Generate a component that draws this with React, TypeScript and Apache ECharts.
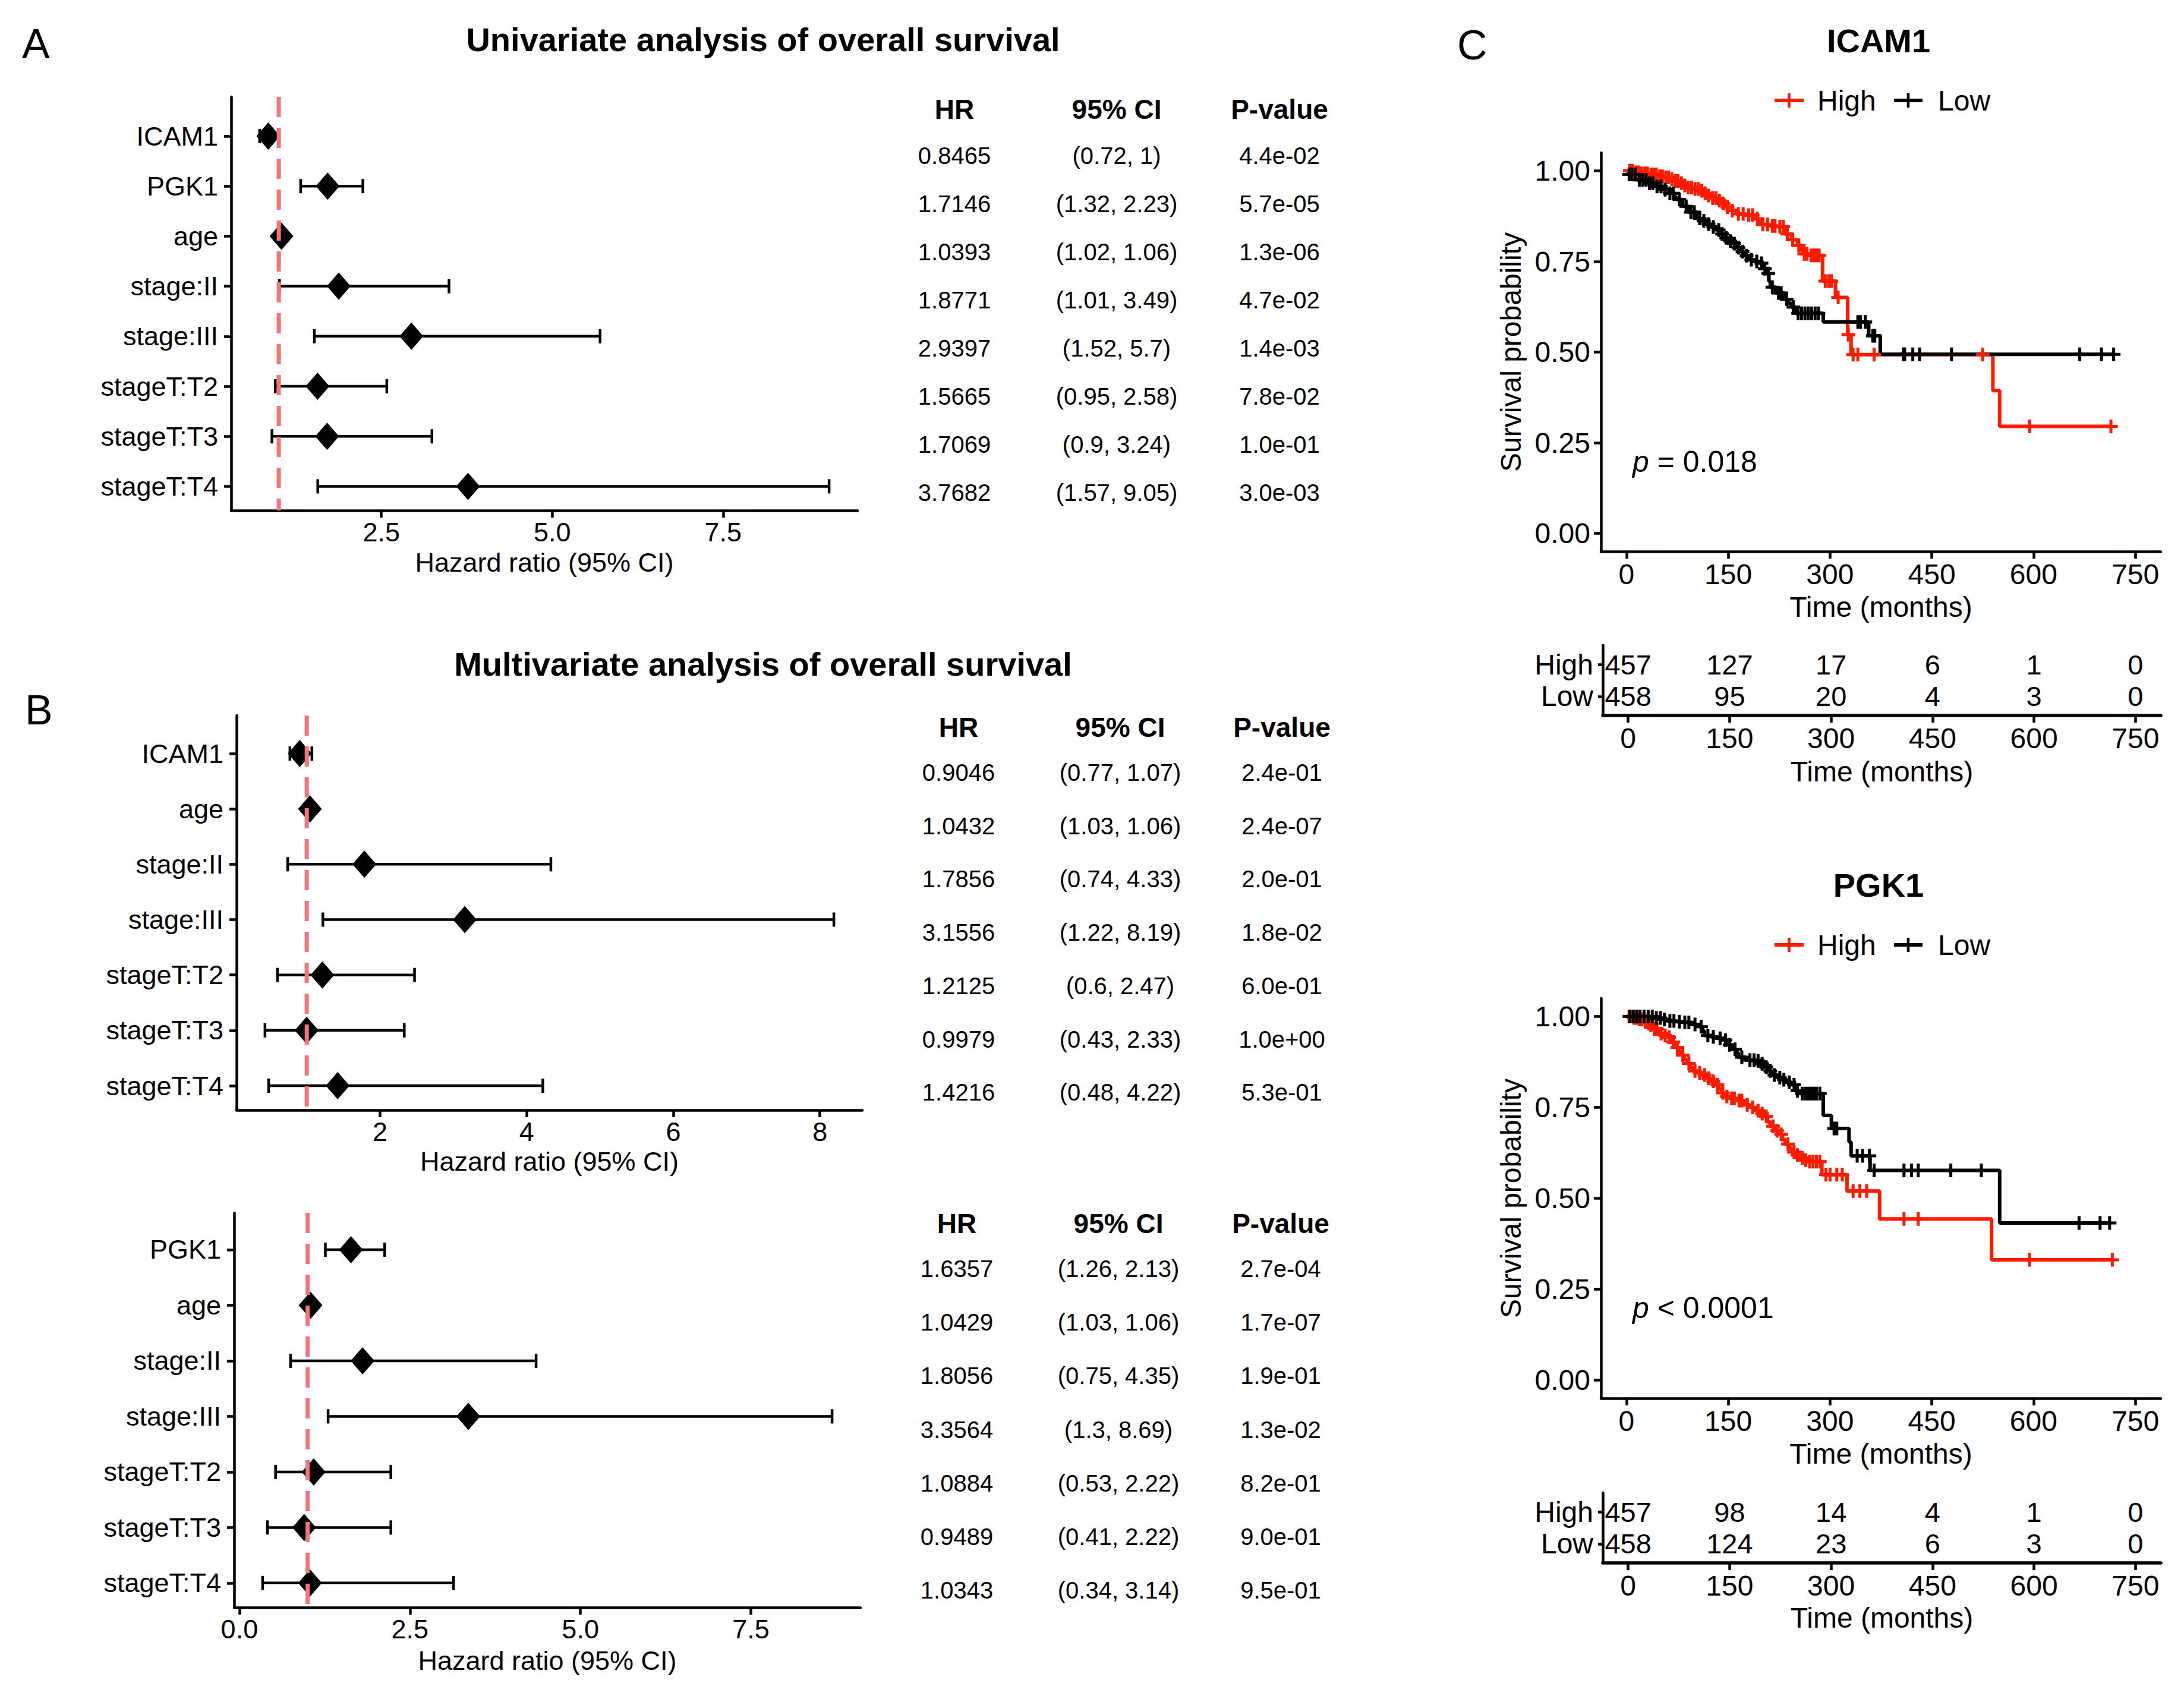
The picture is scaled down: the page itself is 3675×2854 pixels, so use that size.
import React, { useEffect, useRef } from "react";
import * as echarts from "echarts";

const FONT = "'Liberation Sans', Arial, Helvetica, sans-serif";
const RED = "#FF1A00";
const REFLINE = "#F7737A";

// ---------------- Forest plot data ----------------
const uniVars = ["ICAM1", "PGK1", "age", "stage:II", "stage:III", "stageT:T2", "stageT:T3", "stageT:T4"];
const uniHR = [0.8465, 1.7146, 1.0393, 1.8771, 2.9397, 1.5665, 1.7069, 3.7682];
const uniLo = [0.72, 1.32, 1.02, 1.01, 1.52, 0.95, 0.9, 1.57];
const uniHi = [1, 2.23, 1.06, 3.49, 5.7, 2.58, 3.24, 9.05];
const uniP = ["4.4e-02", "5.7e-05", "1.3e-06", "4.7e-02", "1.4e-03", "7.8e-02", "1.0e-01", "3.0e-03"];

const multiIVars = ["ICAM1", "age", "stage:II", "stage:III", "stageT:T2", "stageT:T3", "stageT:T4"];
const multiIHR = [0.9046, 1.0432, 1.7856, 3.1556, 1.2125, 0.9979, 1.4216];
const multiILo = [0.77, 1.03, 0.74, 1.22, 0.6, 0.43, 0.48];
const multiIHi = [1.07, 1.06, 4.33, 8.19, 2.47, 2.33, 4.22];
const multiIP = ["2.4e-01", "2.4e-07", "2.0e-01", "1.8e-02", "6.0e-01", "1.0e+00", "5.3e-01"];

const multiPVars = ["PGK1", "age", "stage:II", "stage:III", "stageT:T2", "stageT:T3", "stageT:T4"];
const multiPHR = [1.6357, 1.0429, 1.8056, 3.3564, 1.0884, 0.9489, 1.0343];
const multiPLo = [1.26, 1.03, 0.75, 1.3, 0.53, 0.41, 0.34];
const multiPHi = [2.13, 1.06, 4.35, 8.69, 2.22, 2.22, 3.14];
const multiPP = ["2.7e-04", "1.7e-07", "1.9e-01", "1.3e-02", "8.2e-01", "9.0e-01", "9.5e-01"];

const uniTicks = [2.5, 5, 7.5];
const multiITicks = [2, 4, 6, 8];
const multiPTicks = [0, 2.5, 5, 7.5];
const tableHeads = ["HR", "95% CI", "P-value"];

// ---------------- Kaplan-Meier data ----------------
const timeTicks = [0, 150, 300, 450, 600, 750];
const survTicks = [0, 0.25, 0.5, 0.75, 1];

const icamHigh: number[][] = [
  [0, 1.0], [10, 0.996], [20, 0.993], [35, 0.99], [45, 0.985], [55, 0.982], [63, 0.977], [70, 0.972],
  [77, 0.966], [84, 0.96], [89, 0.954], [98, 0.95], [107, 0.945], [113, 0.938], [118, 0.932], [126, 0.925],
  [133, 0.918], [140, 0.91], [147, 0.9], [155, 0.89], [162, 0.881], [175, 0.878], [188, 0.868], [195, 0.858],
  [199, 0.852], [212, 0.848], [222, 0.846], [234, 0.826], [243, 0.81], [252, 0.794], [258, 0.78], [261, 0.771],
  [270, 0.767], [289, 0.696], [308, 0.651], [326, 0.548], [331, 0.493], [540, 0.394], [550, 0.295], [714, 0.295],
];
const icamLow: number[][] = [
  [0, 1.0], [3, 0.99], [16, 0.975], [30, 0.966], [45, 0.957], [55, 0.948], [63, 0.938], [70, 0.928],
  [74, 0.921], [83, 0.902], [92, 0.886], [103, 0.869], [110, 0.862], [118, 0.853], [125, 0.845], [133, 0.837],
  [139, 0.826], [144, 0.815], [150, 0.806], [156, 0.799], [162, 0.788], [168, 0.777], [174, 0.766], [179, 0.755],
  [190, 0.75], [197, 0.745], [202, 0.73], [206, 0.717], [210, 0.695], [212, 0.679], [220, 0.663], [232, 0.646],
  [238, 0.635], [243, 0.624], [249, 0.607], [290, 0.583], [357, 0.545], [374, 0.494], [718, 0.494],
];
const icamHighCens = [
  5, 9, 14, 18, 22, 27, 31, 36, 40, 44, 49, 53, 58, 62, 67, 72, 76, 81, 86, 91, 96, 101, 106, 111, 116, 121,
  127, 132, 137, 143, 149, 156, 165, 172, 180, 186, 193, 201, 208, 215, 219, 226, 231, 237, 245, 254, 262,
  266, 272, 276, 280, 284, 293, 298, 302, 312, 327, 334, 341, 365, 525, 594, 714,
];
const icamLowCens = [
  4, 8, 13, 19, 24, 29, 34, 39, 45, 51, 57, 64, 69, 78, 88, 95, 100, 108, 114, 121, 128, 136, 141, 147, 153,
  159, 165, 171, 177, 184, 192, 199, 204, 209, 215, 224, 228, 236, 246, 253, 258, 263, 268, 273, 278, 283,
  341, 345, 352, 363, 366, 408, 410, 422, 432, 479, 668, 700, 718,
];

const pgkHigh: number[][] = [
  [0, 1.0], [8, 0.996], [16, 0.992], [25, 0.985], [33, 0.976], [40, 0.966], [48, 0.953], [55, 0.948],
  [60, 0.943], [66, 0.93], [72, 0.915], [76, 0.905], [80, 0.894], [85, 0.882], [89, 0.871], [94, 0.86],
  [98, 0.85], [105, 0.845], [112, 0.839], [118, 0.83], [124, 0.822], [130, 0.812], [136, 0.801], [140, 0.79],
  [144, 0.78], [152, 0.775], [162, 0.769], [173, 0.757], [182, 0.75], [191, 0.741], [197, 0.733], [203, 0.725],
  [208, 0.71], [212, 0.698], [220, 0.686], [226, 0.676], [230, 0.662], [234, 0.649], [239, 0.638], [243, 0.627],
  [249, 0.619], [255, 0.611], [262, 0.605], [267, 0.601], [288, 0.565], [325, 0.52], [373, 0.443],
  [538, 0.331], [716, 0.331],
];
const pgkLow: number[][] = [
  [0, 1.0], [40, 0.996], [52, 0.992], [60, 0.988], [72, 0.986], [83, 0.984], [95, 0.978], [107, 0.972],
  [112, 0.96], [115, 0.948], [125, 0.944], [133, 0.94], [144, 0.935], [150, 0.922], [156, 0.91], [161, 0.9],
  [165, 0.888], [176, 0.88], [191, 0.878], [197, 0.87], [203, 0.861], [208, 0.85], [214, 0.839], [222, 0.832],
  [229, 0.826], [236, 0.819], [243, 0.812], [249, 0.796], [255, 0.788], [290, 0.728], [302, 0.692],
  [328, 0.655], [331, 0.617], [359, 0.577], [550, 0.432], [712, 0.432],
];
const pgkHighCens = [
  4, 7, 11, 15, 19, 23, 28, 31, 36, 41, 45, 51, 57, 63, 69, 75, 83, 92, 101, 108, 115, 121, 128, 134, 142,
  148, 155, 159, 166, 170, 178, 186, 194, 200, 206, 216, 222, 228, 238, 247, 252, 259, 264, 270, 275, 280,
  285, 294, 300, 310, 318, 334, 344, 354, 409, 430, 594, 716,
];
const pgkLowCens = [
  5, 10, 15, 20, 26, 32, 38, 44, 50, 56, 64, 70, 78, 86, 92, 101, 110, 120, 128, 138, 146, 152, 160, 170,
  182, 188, 194, 200, 206, 212, 218, 226, 232, 240, 247, 252, 259, 264, 268, 272, 276, 280, 285, 306, 310,
  340, 348, 358, 365, 409, 420, 430, 478, 523, 667, 698, 712,
];

const riskTimes = [0, 150, 300, 450, 600, 750];
const riskGroups = ["High", "Low"];
const icamRiskHigh = [457, 127, 17, 6, 1, 0];
const icamRiskLow = [458, 95, 20, 4, 3, 0];
const pgkRiskHigh = [457, 98, 14, 4, 1, 0];
const pgkRiskLow = [458, 124, 23, 6, 3, 0];

// ---------------- Layout ----------------
const forestLayouts = [
  { left: 389, top: 163, width: 1054, height: 696, yMin: -0.784, yMax: 7.482, nameGap: 65 },
  { left: 398, top: 1204, width: 1053, height: 664, yMin: -0.687, yMax: 6.44, nameGap: 64 },
  { left: 394, top: 2041, width: 1054, height: 664, yMin: -0.663, yMax: 6.44, nameGap: 67 },
];
const tableLayouts = [
  { headY: 184, row0: 262, step: 81, cols: [1606, 1879, 2153] },
  { headY: 1224, row0: 1300, step: 89.7, cols: [1613, 1885, 2157] },
  { headY: 2059, row0: 2135, step: 90.2, cols: [1610, 1882, 2155] },
];
const kmLayouts = [
  { grid: { left: 2694, top: 257, width: 942, height: 671 }, risk: { left: 2697, top: 1086, width: 939, height: 118 }, titleY: 68, legendY: 169, pY: 777, riskGap: 70 },
  { grid: { left: 2694, top: 1680, width: 942, height: 673 }, risk: { left: 2697, top: 2512, width: 939, height: 118 }, titleY: 1489, legendY: 1590, pY: 2201, riskGap: 68 },
];

const PLUS = "path://M-2.4,-11 L2.4,-11 L2.4,-2.4 L11,-2.4 L11,2.4 L2.4,2.4 L2.4,11 L-2.4,11 L-2.4,2.4 L-11,2.4 L-11,-2.4 L-2.4,-2.4 Z";

function txt(x: number, y: number, text: string, size: number, weight: string = "normal", align: string = "center", extra: any = {}) {
  return {
    type: "text",
    x,
    y,
    silent: true,
    style: {
      text,
      fontSize: size,
      fontFamily: FONT,
      fontWeight: weight,
      fill: "#000",
      align,
      verticalAlign: "middle",
      textAlign: align,
      textVerticalAlign: "middle",
      ...extra,
    },
  };
}

function survAt(curve: number[][], t: number) {
  let s = curve[0][1];
  for (const [ti, si] of curve) {
    if (ti <= t) s = si;
    else break;
  }
  return s;
}

const LW = 4.5;
const axisLine = { show: true, onZero: false, lineStyle: { color: "#000", width: LW } };
const tickStyle = { color: "#000", width: LW };

function buildOption() {
  const grid: any[] = [];
  const xAxis: any[] = [];
  const yAxis: any[] = [];
  const series: any[] = [];
  const graphic: any[] = [];

  const forests = [
    { vars: uniVars, hr: uniHR, lo: uniLo, hi: uniHi, p: uniP, ticks: uniTicks, fmt: (v: number) => v.toFixed(1) },
    { vars: multiIVars, hr: multiIHR, lo: multiILo, hi: multiIHi, p: multiIP, ticks: multiITicks, fmt: (v: number) => String(v) },
    { vars: multiPVars, hr: multiPHR, lo: multiPLo, hi: multiPHi, p: multiPP, ticks: multiPTicks, fmt: (v: number) => v.toFixed(1) },
  ];

  forests.forEach((f, g) => {
    const L = forestLayouts[g];
    const dmin = Math.min(...f.lo);
    const dmax = Math.max(...f.hi);
    const pad = (dmax - dmin) * 0.05;
    const idx = f.vars.map((_, i) => i);
    grid.push({ left: L.left, top: L.top, width: L.width, height: L.height, containLabel: false });
    xAxis.push({
      type: "value",
      gridIndex: g,
      min: dmin - pad,
      max: dmax + pad,
      axisLine,
      axisTick: { show: true, length: 12, lineStyle: tickStyle, customValues: f.ticks },
      axisLabel: { customValues: f.ticks, formatter: f.fmt, fontSize: 45, fontFamily: FONT, color: "#000", margin: 14 },
      splitLine: { show: false },
      name: "Hazard ratio (95% CI)",
      nameLocation: "middle",
      nameGap: L.nameGap,
      nameTextStyle: { fontSize: 45, fontFamily: FONT, color: "#000" },
    });
    yAxis.push({
      type: "value",
      gridIndex: g,
      inverse: true,
      min: L.yMin,
      max: L.yMax,
      axisLine,
      axisTick: { show: true, length: 12, lineStyle: tickStyle, customValues: idx },
      axisLabel: {
        customValues: idx,
        formatter: (v: number) => f.vars[Math.round(v)],
        fontSize: 45,
        fontFamily: FONT,
        color: "#000",
        margin: 22,
      },
      splitLine: { show: false },
    });
    series.push({
      type: "custom",
      xAxisIndex: g,
      yAxisIndex: g,
      z: 2,
      encode: { x: [0, 1], y: 2 },
      data: f.vars.map((_, i) => [f.lo[i], f.hi[i], i]),
      renderItem: (params: any, api: any) => {
        const a = api.coord([api.value(0), api.value(2)]);
        const b = api.coord([api.value(1), api.value(2)]);
        const h = 12;
        const st = { stroke: "#000", lineWidth: LW };
        return {
          type: "group",
          children: [
            { type: "line", shape: { x1: a[0], y1: a[1], x2: b[0], y2: b[1] }, style: st },
            { type: "line", shape: { x1: a[0], y1: a[1] - h, x2: a[0], y2: a[1] + h }, style: st },
            { type: "line", shape: { x1: b[0], y1: b[1] - h, x2: b[0], y2: b[1] + h }, style: st },
          ],
        };
      },
    });
    series.push({
      type: "scatter",
      xAxisIndex: g,
      yAxisIndex: g,
      z: 3,
      symbol: "diamond",
      symbolSize: [40, 46],
      itemStyle: { color: "#000", opacity: 1 },
      data: f.vars.map((_, i) => [f.hr[i], i]),
    });
    series.push({
      type: "line",
      xAxisIndex: g,
      yAxisIndex: g,
      z: 4,
      symbol: "none",
      lineStyle: { color: REFLINE, width: 7, type: [34, 18] },
      data: [[1, L.yMin], [1, L.yMax]],
    });

    // table
    const T = tableLayouts[g];
    tableHeads.forEach((h, i) => graphic.push(txt(T.cols[i], T.headY, h, 46, "bold")));
    f.hr.forEach((v, r) => {
      const y = T.row0 + r * T.step;
      graphic.push(txt(T.cols[0], y, v.toFixed(4), 40));
      graphic.push(txt(T.cols[1], y, `(${f.lo[r]}, ${f.hi[r]})`, 40));
      graphic.push(txt(T.cols[2], y, f.p[r], 40));
    });
  });

  const kms = [
    { title: "ICAM1", high: icamHigh, low: icamLow, hc: icamHighCens, lc: icamLowCens, rh: icamRiskHigh, rl: icamRiskLow, p: "{it|p} = 0.018" },
    { title: "PGK1", high: pgkHigh, low: pgkLow, hc: pgkHighCens, lc: pgkLowCens, rh: pgkRiskHigh, rl: pgkRiskLow, p: "{it|p} < 0.0001" },
  ];

  kms.forEach((k, j) => {
    const L = kmLayouts[j];
    const gi = grid.length;
    grid.push({ ...L.grid });
    xAxis.push({
      type: "value",
      gridIndex: gi,
      min: -37.5,
      max: 787.5,
      axisLine,
      axisTick: { show: true, length: 12, lineStyle: tickStyle, customValues: timeTicks },
      axisLabel: { customValues: timeTicks, fontSize: 48, fontFamily: FONT, color: "#000", margin: 14 },
      splitLine: { show: false },
      name: "Time (months)",
      nameLocation: "middle",
      nameGap: 69,
      nameTextStyle: { fontSize: 48, fontFamily: FONT, color: "#000" },
    });
    yAxis.push({
      type: "value",
      gridIndex: gi,
      min: -0.05,
      max: 1.05,
      axisLine,
      axisTick: { show: true, length: 12, lineStyle: tickStyle, customValues: survTicks },
      axisLabel: {
        customValues: survTicks,
        formatter: (v: number) => v.toFixed(2),
        fontSize: 48,
        fontFamily: FONT,
        color: "#000",
        margin: 18,
      },
      splitLine: { show: false },
      name: "Survival probability",
      nameLocation: "middle",
      nameGap: 128,
      nameTextStyle: { fontSize: 48, fontFamily: FONT, color: "#000" },
    });
    const groups = [
      { name: "High", curve: k.high, cens: k.hc, color: RED },
      { name: "Low", curve: k.low, cens: k.lc, color: "#000" },
    ];
    groups.forEach((gr) => {
      series.push({
        type: "line",
        name: gr.name,
        xAxisIndex: gi,
        yAxisIndex: gi,
        step: "end",
        symbol: "none",
        z: 3,
        lineStyle: { color: gr.color, width: 6 },
        itemStyle: { color: gr.color },
        data: gr.curve,
      });
    });
    groups.forEach((gr) => {
      series.push({
        type: "scatter",
        name: gr.name + " censored",
        xAxisIndex: gi,
        yAxisIndex: gi,
        symbol: PLUS,
        symbolSize: 23,
        z: 4,
        itemStyle: { color: gr.color, opacity: 1 },
        data: gr.cens.map((t) => [t, survAt(gr.curve, t)]),
      });
    });

    // risk table
    const ri = grid.length;
    grid.push({ ...L.risk });
    xAxis.push({
      type: "value",
      gridIndex: ri,
      min: -37.5,
      max: 787.5,
      axisLine: { show: true, onZero: false, lineStyle: { color: "#000", width: 5.5 } },
      axisTick: { show: true, length: 12, lineStyle: tickStyle, customValues: timeTicks },
      axisLabel: { customValues: timeTicks, fontSize: 48, fontFamily: FONT, color: "#000", margin: 14 },
      splitLine: { show: false },
      name: "Time (months)",
      nameLocation: "middle",
      nameGap: L.riskGap,
      nameTextStyle: { fontSize: 48, fontFamily: FONT, color: "#000" },
    });
    yAxis.push({
      type: "value",
      gridIndex: ri,
      inverse: true,
      min: -0.6,
      max: 1.6,
      axisLine,
      axisTick: { show: true, length: 8, lineStyle: tickStyle, customValues: [0, 1] },
      axisLabel: {
        customValues: [0, 1],
        formatter: (v: number) => riskGroups[Math.round(v)],
        fontSize: 48,
        fontFamily: FONT,
        color: "#000",
        margin: 16,
      },
      splitLine: { show: false },
    });
    [k.rh, k.rl].forEach((arr, row) => {
      series.push({
        type: "scatter",
        name: riskGroups[row] + " at risk",
        xAxisIndex: ri,
        yAxisIndex: ri,
        symbolSize: 1,
        itemStyle: { color: "rgba(0,0,0,0)", opacity: 1 },
        label: {
          show: true,
          position: "inside",
          formatter: (p: any) => String(p.value[2]),
          fontSize: 47,
          fontFamily: FONT,
          color: "#000",
          opacity: 1,
          textBorderWidth: 0,
          textBorderColor: "transparent",
        },
        data: riskTimes.map((t, i) => [t, row, arr[i]]),
      });
    });

    // title, legend, p value
    graphic.push(txt(3161, L.titleY, k.title, 56, "bold"));
    const ly = L.legendY;
    graphic.push({ type: "line", silent: true, shape: { x1: 2986, y1: ly, x2: 3035, y2: ly }, style: { stroke: RED, lineWidth: 6 } });
    graphic.push({ type: "line", silent: true, shape: { x1: 3010.5, y1: ly - 12, x2: 3010.5, y2: ly + 12 }, style: { stroke: RED, lineWidth: 4.5 } });
    graphic.push(txt(3058, ly, "High", 48, "normal", "left"));
    graphic.push({ type: "line", silent: true, shape: { x1: 3187, y1: ly, x2: 3235, y2: ly }, style: { stroke: "#000", lineWidth: 6 } });
    graphic.push({ type: "line", silent: true, shape: { x1: 3211, y1: ly - 12, x2: 3211, y2: ly + 12 }, style: { stroke: "#000", lineWidth: 4.5 } });
    graphic.push(txt(3261, ly, "Low", 48, "normal", "left"));
    graphic.push(txt(2747, L.pY, k.p, 50, "normal", "left", { rich: { it: { fontStyle: "italic", fontSize: 50, fontFamily: FONT, fill: "#000" } } }));
  });

  // panel letters & forest titles
  graphic.push(txt(37, 74, "A", 70, "normal", "left"));
  graphic.push(txt(42, 1195, "B", 70, "normal", "left"));
  graphic.push(txt(2452, 76, "C", 70, "normal", "left"));
  graphic.push(txt(1284, 66, "Univariate analysis of overall survival", 56, "bold"));
  graphic.push(txt(1284, 1117, "Multivariate analysis of overall survival", 56, "bold"));

  return {
    animation: false,
    backgroundColor: "#fff",
    textStyle: { fontFamily: FONT },
    grid,
    xAxis,
    yAxis,
    series,
    graphic: { elements: graphic },
  };
}

export default function App() {
  const ref = useRef<HTMLDivElement>(null);
  useEffect(() => {
    const chart = echarts.init(ref.current!, null, { renderer: "svg" });
    chart.setOption(buildOption() as any);
    return () => chart.dispose();
  }, []);
  return (
    <div
      ref={ref}
      style={{ position: "fixed", left: 0, top: 0, width: "3675px", height: "2854px", background: "#fff" }}
    />
  );
}
